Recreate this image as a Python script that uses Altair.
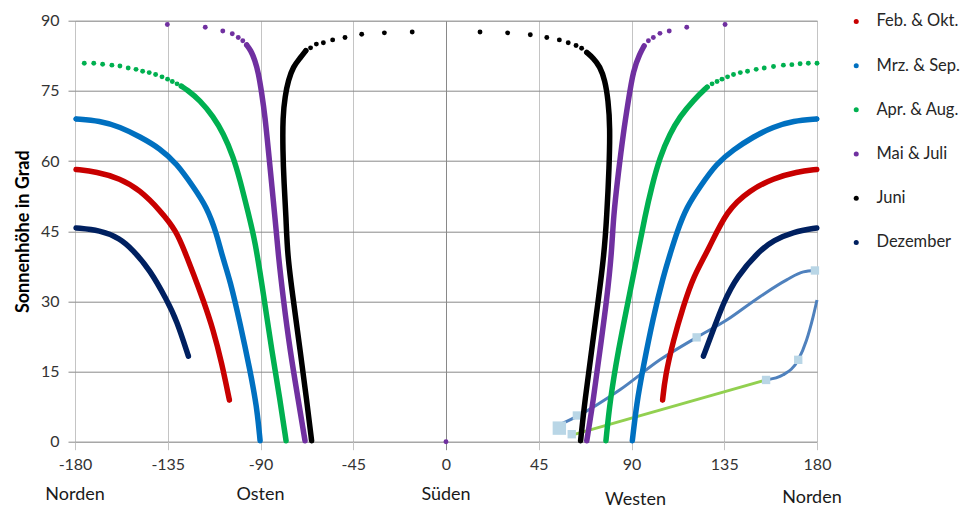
import altair as alt
import pandas as pd

SERIES = ["Feb. & Okt.", "Mrz. & Sep.", "Apr. & Aug.", "Mai & Juli", "Juni", "Dezember"]
COLORS = ["#C80000", "#0070C0", "#00B050", "#7030A0", "#000000", "#002060"]

X_TICKS = [-180, -135, -90, -45, 0, 45, 90, 135, 180]
Y_TICKS = [0, 15, 30, 45, 60, 75, 90]

DIRECTIONS = ["Norden", "Osten", "Süden", "Westen", "Norden"]
DIRECTION_AZ = [-180, -90, 0, 90, 180]

# (azimuth, altitude)
DEZ_LEFT = [(-179.5, 45.7), (-167.9, 45.2), (-158.2, 43.5), (-151.9, 41.0), (-143.6, 36.7),
            (-135.5, 30.3), (-130.7, 26.0), (-125.0, 18.3)]
DEZ_RIGHT = [(124.9, 18.3), (129.7, 23.9), (134.5, 29.6), (141.0, 35.3), (152.5, 41.0),
             (158.8, 43.0), (168.5, 44.9), (179.9, 45.7)]

FEB_LEFT = [(-179.5, 58.2), (-169.5, 57.7), (-158.2, 56.3), (-148.5, 53.8), (-138.8, 49.5),
            (-130.7, 45.0), (-126.5, 40.3), (-122.6, 36.0), (-117.8, 30.3), (-112.9, 23.9),
            (-108.8, 16.8), (-105.1, 8.9)]
FEB_RIGHT = [(105.1, 8.9), (106.3, 13.9), (110.3, 21.7), (115.1, 28.9), (120.0, 35.3),
             (127.3, 41.0), (136.2, 49.5), (147.5, 53.8), (158.8, 56.3), (170.2, 57.7),
             (179.9, 58.2)]

MRZ_LEFT = [(-179.5, 69.0), (-167.9, 68.6), (-158.2, 67.3), (-148.5, 65.2), (-138.8, 62.7),
            (-130.7, 59.5), (-122.6, 54.5), (-116.1, 50.2), (-111.3, 44.5), (-108.5, 39.5),
            (-104.8, 34.6), (-99.9, 25.3), (-95.1, 15.3), (-91.8, 7.5), (-90.2, 0.2)]
MRZ_RIGHT = [(90.4, 0.2), (92.5, 8.2), (95.7, 16.0), (100.6, 26.7), (105.4, 35.3),
             (109.0, 40.5), (112.2, 45.0), (116.8, 50.2), (123.2, 54.5), (131.3, 59.5),
             (139.4, 62.4), (149.1, 65.2), (158.8, 67.3), (168.5, 68.6), (179.9, 69.0)]

APR_LEFT_DOTS = [(-175.5, 80.9), (-170.9, 80.9), (-166.6, 80.7), (-162.1, 80.5), (-158.2, 80.3),
                 (-154.2, 79.9), (-150.4, 79.6), (-147.2, 79.2), (-144.0, 78.9), (-140.9, 78.5),
                 (-137.8, 78.0), (-135.1, 77.5), (-132.8, 77.0), (-130.5, 76.5), (-128.4, 76.0)]
APR_LEFT = [(-128.4, 76.0), (-125.8, 75.3), (-119.4, 73.0), (-112.9, 69.5), (-108.0, 65.9),
            (-103.2, 60.9), (-99.9, 55.9), (-95.9, 48.8), (-92.7, 43.1), (-88.6, 31.7),
            (-84.6, 19.6), (-80.5, 8.9), (-77.6, 0.2)]
APR_RIGHT_DOTS = [(180.0, 80.9), (175.8, 80.9), (171.8, 80.8), (167.8, 80.6), (163.7, 80.5),
                  (158.9, 80.2), (154.4, 79.9), (150.5, 79.6), (146.3, 79.2), (142.8, 78.9),
                  (139.5, 78.5), (136.6, 78.0), (133.9, 77.5), (131.5, 77.0), (129.1, 76.5),
                  (126.7, 75.8)]
APR_RIGHT = [(126.7, 75.8), (120.0, 73.0), (113.5, 69.5), (108.7, 65.9), (103.8, 60.9),
             (99.8, 54.5), (96.5, 48.1), (93.6, 41.5), (88.5, 30.3), (83.6, 19.6),
             (79.6, 8.9), (77.6, 0.2)]

MAI_LEFT_DOTS = [(-135.2, 89.2), (-116.8, 88.6), (-108.3, 87.8), (-103.7, 87.2), (-100.8, 86.4),
                 (-98.6, 85.7), (-96.7, 84.8)]
MAI_LEFT = [(-96.7, 84.8), (-94.8, 83.7), (-92.7, 81.6), (-91.0, 78.8), (-89.4, 74.5),
            (-87.8, 69.5), (-86.2, 62.4), (-84.6, 55.2), (-83.0, 48.1), (-81.4, 40.0),
            (-78.9, 30.3), (-75.7, 19.6), (-71.7, 8.9), (-68.4, 0.2)]
MAI_RIGHT_DOTS = [(135.4, 89.2), (116.8, 88.6), (108.3, 87.8), (103.8, 87.3), (100.6, 86.4),
                  (98.2, 85.7), (96.1, 84.6)]
MAI_RIGHT = [(96.1, 84.6), (94.1, 83.0), (90.9, 79.5), (88.5, 73.0), (86.0, 65.9),
             (83.6, 57.4), (81.2, 48.1), (80.4, 40.5), (78.0, 30.3), (74.7, 19.6),
             (71.5, 8.9), (68.3, 0.2)]
MAI_EXTRA = [(0.0, 0.0)]

JUN_LEFT_DOTS = [(-16.4, 87.6), (-29.9, 87.4), (-40.9, 87.1), (-49.0, 86.4), (-55.0, 85.9),
                 (-59.5, 85.3), (-62.9, 85.0), (-65.7, 84.2), (-68.0, 83.6)]
JUN_LEFT = [(-68.0, 83.6), (-70.8, 82.0), (-74.1, 80.2), (-76.5, 77.3), (-78.1, 73.8),
            (-79.2, 69.5), (-79.2, 62.4), (-78.6, 55.2), (-77.6, 48.1), (-77.0, 40.0),
            (-74.1, 30.3), (-70.8, 19.6), (-67.6, 8.9), (-65.2, 0.2)]
JUN_RIGHT_DOTS = [(16.5, 87.6), (29.9, 87.4), (40.9, 87.0), (48.9, 86.4), (55.0, 85.9),
                  (59.3, 85.3), (63.1, 84.7), (65.8, 84.1), (68.3, 83.2)]
JUN_RIGHT = [(68.3, 83.2), (71.5, 82.0), (74.7, 80.2), (77.1, 77.3), (78.7, 73.0),
             (79.6, 67.3), (79.2, 58.8), (78.0, 48.1), (76.7, 40.0), (73.9, 30.3),
             (70.7, 19.6), (67.4, 8.9), (65.3, 0.2)]

# horizon profile
HORIZON_A = [(56.0, 3.8), (63.5, 5.4), (84.4, 11.1), (103.8, 17.5), (121.6, 22.3),
             (136.2, 26.0), (152.3, 31.0), (165.3, 34.6), (173.4, 36.3), (179.0, 36.6)]
HORIZON_B = [(155.3, 13.2), (163.6, 14.3), (170.9, 17.5), (174.9, 21.7), (178.1, 26.7),
             (180.0, 30.3)]
HORIZON_GREEN = [(61.0, 1.4), (155.3, 13.2)]
HORIZON_MARKERS = [(61.0, 1.6), (63.5, 5.6), (121.6, 22.3), (179.0, 36.6), (155.3, 13.2),
                   (170.9, 17.5)]
HORIZON_BIG_MARKER = [(55.0, 2.9)]

LINE_SEGMENTS = [
    ("Dezember", "dez_l", DEZ_LEFT), ("Dezember", "dez_r", DEZ_RIGHT),
    ("Feb. & Okt.", "feb_l", FEB_LEFT), ("Feb. & Okt.", "feb_r", FEB_RIGHT),
    ("Mrz. & Sep.", "mrz_l", MRZ_LEFT), ("Mrz. & Sep.", "mrz_r", MRZ_RIGHT),
    ("Apr. & Aug.", "apr_l", APR_LEFT), ("Apr. & Aug.", "apr_r", APR_RIGHT),
    ("Mai & Juli", "mai_l", MAI_LEFT), ("Mai & Juli", "mai_r", MAI_RIGHT),
    ("Juni", "jun_l", JUN_LEFT), ("Juni", "jun_r", JUN_RIGHT),
]
DOT_SEGMENTS = [
    ("Feb. & Okt.", "feb_end", [FEB_LEFT[-1], FEB_RIGHT[0]]),
    ("Mrz. & Sep.", "mrz_end", [MRZ_LEFT[0], MRZ_RIGHT[-1]]),
    ("Apr. & Aug.", "apr_ld", APR_LEFT_DOTS), ("Apr. & Aug.", "apr_rd", APR_RIGHT_DOTS),
    ("Mai & Juli", "mai_ld", MAI_LEFT_DOTS), ("Mai & Juli", "mai_rd", MAI_RIGHT_DOTS),
    ("Mai & Juli", "mai_x", MAI_EXTRA),
    ("Juni", "jun_ld", JUN_LEFT_DOTS), ("Juni", "jun_rd", JUN_RIGHT_DOTS),
    ("Dezember", "dez_end", [DEZ_LEFT[-1], DEZ_RIGHT[0]]),
]


def table(segments):
    rows = []
    for series, seg, pts in segments:
        for i, (a, h) in enumerate(pts):
            rows.append({"series": series, "seg": seg, "i": i, "az": a, "alt": h})
    return pd.DataFrame(rows)


lines_df = table(LINE_SEGMENTS)
dots_df = table(DOT_SEGMENTS)
hz_df = table([("h", "a", HORIZON_A), ("h", "b", HORIZON_B)])
hz_green_df = table([("h", "g", HORIZON_GREEN)])
hz_mark_df = table([("h", "m", HORIZON_MARKERS)])
hz_big_df = table([("h", "M", HORIZON_BIG_MARKER)])
dir_df = pd.DataFrame({"name": DIRECTIONS, "az": DIRECTION_AZ})

FONT = "Lato"
GRID_DARK = "#898989"
GRID_LIGHT = "#C4C4C4"
TEXT = "#333333"

x_scale = alt.Scale(domain=[-180, 180], nice=False, zero=False)
y_scale = alt.Scale(domain=[0, 90], nice=False, zero=False)

x_axis = alt.Axis(
    values=X_TICKS, title=None, domain=False, grid=True,
    gridColor={"condition": {"test": "datum.value === 0", "value": GRID_DARK}, "value": GRID_LIGHT},
    tickColor={"condition": {"test": "datum.value === 0", "value": GRID_DARK}, "value": GRID_LIGHT},
    tickSize=8, labelFont=FONT, labelFontSize=16, labelColor=TEXT,
    labelPadding=7, labelFlush=False, labelOverlap=False,
    labelExpr="'' + datum.value",
)
y_axis = alt.Axis(
    values=Y_TICKS, title="Sonnenhöhe in Grad", domain=False, grid=True,
    gridColor=GRID_DARK, tickColor=GRID_DARK, tickSize=7,
    labelFont=FONT, labelFontSize=16, labelColor=TEXT, labelPadding=9,
    titleFont=FONT, titleFontSize=18, titleFontWeight="bold", titleColor="#000000",
    titlePadding=8, labelFlush=False,
)

X = alt.X("az:Q", scale=x_scale, axis=x_axis)
Y = alt.Y("alt:Q", scale=y_scale, axis=y_axis)

legend = alt.Legend(title=None, orient="none", legendX=773, legendY=-7.5,
                    symbolType="circle", symbolSize=25, symbolStrokeWidth=0,
                    labelFont=FONT, labelFontSize=16.5, labelColor="#262626",
                    rowPadding=27.2, labelOffset=12)

horizon = alt.Chart(hz_df).mark_line(color="#4F81BD", strokeWidth=3, interpolate="monotone").encode(
    x=X, y=Y, detail="seg:N", order="i:Q")
horizon_green = alt.Chart(hz_green_df).mark_line(color="#92D050", strokeWidth=3).encode(
    x=X, y=Y, order="i:Q")
horizon_marks = alt.Chart(hz_mark_df).mark_square(color="#B9D6E6", size=70, opacity=1).encode(x=X, y=Y)
horizon_big = alt.Chart(hz_big_df).mark_square(color="#B9D6E6", size=180, opacity=1).encode(x=X, y=Y)

curves = alt.Chart(lines_df).mark_line(strokeWidth=5.5, strokeCap="round", strokeJoin="round",
                                        interpolate="basis").encode(
    x=X, y=Y, detail="seg:N", order="i:Q",
    stroke=alt.Stroke("series:N", scale=alt.Scale(domain=SERIES, range=COLORS), legend=legend),
)

dots = alt.Chart(dots_df).mark_circle(size=24, opacity=1).encode(
    x=X, y=Y,
    color=alt.Color("series:N", scale=alt.Scale(domain=SERIES, range=COLORS), legend=legend),
)

dir_main = alt.Chart(dir_df).transform_filter("datum.name !== 'Westen' && datum.az < 180").mark_text(
    font=FONT, fontSize=18, color="#1a1a1a", baseline="middle").encode(
    x=alt.X("az:Q", scale=x_scale), y=alt.value(474.5), text="name:N")
dir_west = alt.Chart(dir_df).transform_filter("datum.name === 'Westen'").mark_text(
    font=FONT, fontSize=18, color="#1a1a1a", baseline="middle", dx=4).encode(
    x=alt.X("az:Q", scale=x_scale), y=alt.value(479), text="name:N")
dir_north = alt.Chart(dir_df).transform_filter("datum.az >= 180").mark_text(
    font=FONT, fontSize=18, color="#1a1a1a", baseline="middle", dx=-5).encode(
    x=alt.X("az:Q", scale=x_scale), y=alt.value(477), text="name:N")

chart = alt.layer(
    horizon, horizon_green, horizon_marks, horizon_big, curves, dots, dir_main, dir_west, dir_north
).properties(
    width=742, height=421,
    padding={"left": 67, "top": 12.7, "right": 146, "bottom": 70},
    autosize=alt.AutoSizeParams(type="none"),
).configure_view(stroke=None).configure(font=FONT)

chart.save("out.html", embed_options={"renderer": "svg", "actions": False})
